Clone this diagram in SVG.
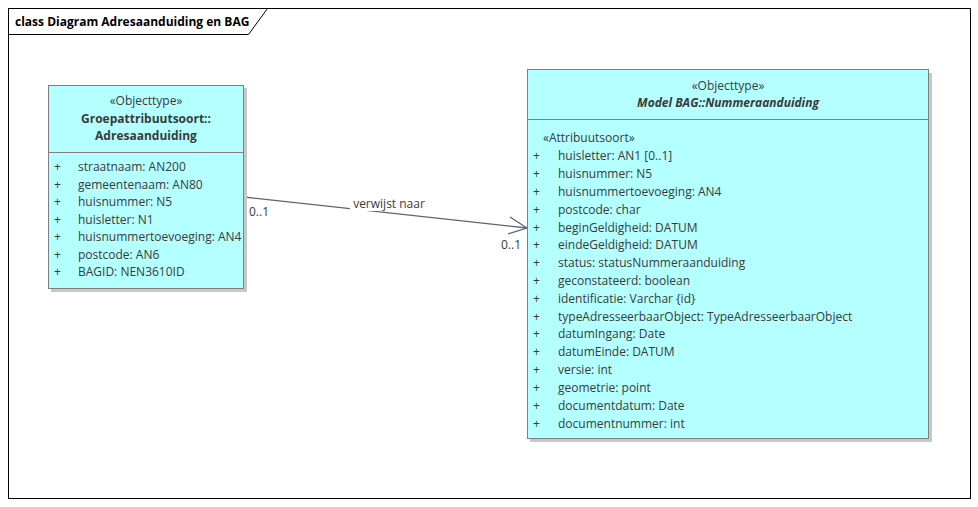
<svg xmlns="http://www.w3.org/2000/svg" width="978" height="507" viewBox="0 0 978 507">
<style>
text{font-family:"Open Sans","Noto Sans","DejaVu Sans",sans-serif;font-size:12px;fill:#3a3a3a}
.c{text-anchor:middle}
.b{font-weight:bold}
.bi{font-weight:bold;font-style:italic}
.box{fill:#b4ffff;stroke:#7f7f7f;stroke-width:1}
.sh{fill:#c8c8c8}
.div{stroke:#7f7f7f;stroke-width:1}
.conn{stroke:#5a6478;stroke-width:1.3;fill:none}
</style>
<rect x="0" y="0" width="978" height="507" fill="#ffffff"/>
<g id="frame">
<rect x="8.5" y="8.5" width="962" height="490" fill="#ffffff" stroke="#000000" stroke-width="1"/>
<path d="M8.5,34.5 H248.5 L267.5,8.5" fill="none" stroke="#000000" stroke-width="1"/>
<text x="15" y="26" class="b" style="fill:#000000">class Diagram Adresaanduiding en BAG</text>
</g>
<g id="connectors">
<line class="conn" x1="244" y1="197" x2="527" y2="228"/>
<path class="conn" d="M510,217 L527,228 L508,234"/>
<rect x="350" y="196" width="78" height="15" fill="#ffffff"/>
<text x="389" y="208" class="c">verwijst naar</text>
<text x="249" y="216">0..1</text>
<text x="501" y="249">0..1</text>
</g>
<g id="node-adresaanduiding">
<rect class="sh" x="51" y="88" width="196" height="204"/>
<rect class="box" x="48.5" y="85.5" width="195" height="203"/>
<line class="div" x1="48.5" y1="152.5" x2="243.5" y2="152.5"/>
<text x="146" y="105" class="c">«Objecttype»</text>
<text x="146" y="123" class="c b">Groepattribuutsoort::</text>
<text x="146" y="140" class="c b">Adresaanduiding</text>
<text x="54" y="171">+</text><text x="78" y="171">straatnaam: AN200</text>
<text x="54" y="188.5">+</text><text x="78" y="188.5">gemeentenaam: AN80</text>
<text x="54" y="206">+</text><text x="78" y="206">huisnummer: N5</text>
<text x="54" y="223.5">+</text><text x="78" y="223.5">huisletter: N1</text>
<text x="54" y="241">+</text><text x="78" y="241">huisnummertoevoeging: AN4</text>
<text x="54" y="258.5">+</text><text x="78" y="258.5">postcode: AN6</text>
<text x="54" y="276">+</text><text x="78" y="276">BAGID: NEN3610ID</text>
</g>
<g id="node-nummeraanduiding">
<rect class="sh" x="530" y="73" width="402" height="369"/>
<rect class="box" x="527.5" y="69.5" width="401" height="369"/>
<line class="div" x1="527.5" y1="119.5" x2="928.5" y2="119.5"/>
<text x="728" y="90" class="c">«Objecttype»</text>
<text x="728" y="107" class="c bi">Model BAG::Nummeraanduiding</text>
<text x="543" y="142">«Attribuutsoort»</text>
<text x="533" y="160">+</text><text x="558" y="160">huisletter: AN1 [0..1]</text>
<text x="533" y="178">+</text><text x="558" y="178">huisnummer: N5</text>
<text x="533" y="196">+</text><text x="558" y="196">huisnummertoevoeging: AN4</text>
<text x="533" y="214">+</text><text x="558" y="214">postcode: char</text>
<text x="533" y="232">+</text><text x="558" y="232">beginGeldigheid: DATUM</text>
<text x="533" y="249">+</text><text x="558" y="249">eindeGeldigheid: DATUM</text>
<text x="533" y="267">+</text><text x="558" y="267">status: statusNummeraanduiding</text>
<text x="533" y="285">+</text><text x="558" y="285">geconstateerd: boolean</text>
<text x="533" y="303">+</text><text x="558" y="303">identificatie: Varchar {id}</text>
<text x="533" y="321">+</text><text x="558" y="321">typeAdresseerbaarObject: TypeAdresseerbaarObject</text>
<text x="533" y="338">+</text><text x="558" y="338">datumIngang: Date</text>
<text x="533" y="356">+</text><text x="558" y="356">datumEinde: DATUM</text>
<text x="533" y="374">+</text><text x="558" y="374">versie: int</text>
<text x="533" y="392">+</text><text x="558" y="392">geometrie: point</text>
<text x="533" y="410">+</text><text x="558" y="410">documentdatum: Date</text>
<text x="533" y="428">+</text><text x="558" y="428">documentnummer: int</text>
</g>
</svg>
